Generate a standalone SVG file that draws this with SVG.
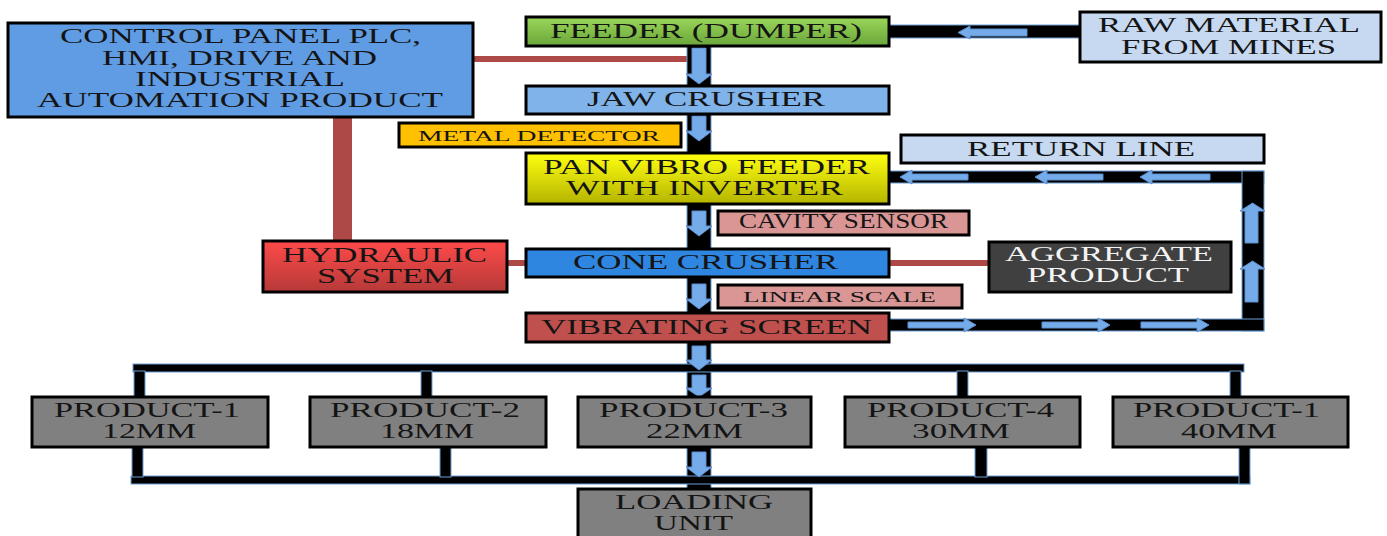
<svg xmlns="http://www.w3.org/2000/svg" width="1387" height="536" viewBox="0 0 1387 536">
<defs>
<style>
.box{stroke:#000;stroke-width:3}
.t{font-family:"Liberation Serif","Times New Roman",serif;font-size:20px;fill:#141414;text-anchor:middle}
.s{font-size:15px}
.w{fill:#f4f4f4}
.belt{fill:#000;stroke:#6c9fd6;stroke-width:1}
.red{fill:#ad4a47}
.arr{fill:#74abe8;stroke:#5c8fd0;stroke-width:1}
</style>
<linearGradient id="gGreen" x1="0" y1="0" x2="0" y2="1"><stop offset="0" stop-color="#9bd65a"/><stop offset="1" stop-color="#6aa63a"/></linearGradient>
<linearGradient id="gYellow" x1="0" y1="0" x2="0" y2="1"><stop offset="0" stop-color="#ffff10"/><stop offset="1" stop-color="#b4b400"/></linearGradient>
<linearGradient id="gRed" x1="0" y1="0" x2="0" y2="1"><stop offset="0" stop-color="#ff4a4a"/><stop offset="1" stop-color="#b53a38"/></linearGradient>
</defs>

<g id="connectors">
  <!-- red control links -->
  <rect class="red" x="473" y="56" width="216" height="6"/>
  <rect class="red" x="333" y="117" width="19" height="124"/>
  <rect class="red" x="506" y="260" width="21" height="6"/>
  <rect class="red" x="888" y="260" width="101" height="6"/>
  <!-- raw material belt -->
  <rect class="belt" x="888" y="25" width="192" height="13"/>
  <!-- main spine -->
  <rect class="belt" x="687" y="46" width="24" height="444"/>
  <!-- return line -->
  <rect class="belt" x="888" y="171" width="376" height="12"/>
  <rect class="belt" x="1242" y="171" width="22" height="160"/>
  <rect class="belt" x="888" y="319" width="376" height="12"/>
  <!-- distribution bar -->
  <rect class="belt" x="133" y="364" width="1111" height="8"/>
  <rect class="belt" x="134" y="371" width="11" height="26"/>
  <rect class="belt" x="421" y="371" width="11" height="26"/>
  <rect class="belt" x="957" y="371" width="11" height="26"/>
  <rect class="belt" x="1230" y="371" width="11" height="26"/>
  <!-- collector bar -->
  <rect class="belt" x="131" y="476" width="1119" height="8"/>
  <rect class="belt" x="132" y="446" width="11" height="31"/>
  <rect class="belt" x="440" y="446" width="11" height="31"/>
  <rect class="belt" x="975" y="446" width="12" height="31"/>
  <rect class="belt" x="1239" y="446" width="11" height="38"/>
  <!-- arrows on spine (down) -->
  <polygon class="arr" points="692,48 706,48 706,74 712,74 699,84 686,74 692,74"/>
  <polygon class="arr" points="692,116 706,116 706,131 712,131 699,141 686,131 692,131"/>
  <polygon class="arr" points="692,211 706,211 706,226 712,226 699,236 686,226 692,226"/>
  <polygon class="arr" points="692,284 706,284 706,299 712,299 699,309 686,299 692,299"/>
  <polygon class="arr" points="692,346 706,346 706,360 712,360 699,370 686,360 692,360"/>
  <polygon class="arr" points="692,375 706,375 706,388 712,388 699,397 686,388 692,388"/>
  <polygon class="arr" points="692,452 706,452 706,467 712,467 699,477 686,467 692,467"/>
  <!-- raw arrow (left) -->
  <polygon class="arr" points="1027,29 970,29 970,26 958,32.5 970,39 970,36 1027,36"/>
  <!-- return top arrows (left) -->
  <polygon class="arr" points="968,174 912,174 912,170 900,177 912,184 912,180 968,180"/>
  <polygon class="arr" points="1103,174 1047,174 1047,170 1035,177 1047,184 1047,180 1103,180"/>
  <polygon class="arr" points="1210,174 1152,174 1152,170 1140,177 1152,184 1152,180 1210,180"/>
  <!-- return right arrows (up) -->
  <polygon class="arr" points="1245,243 1245,211 1240,211 1252.5,203 1265,211 1258,211 1258,243"/>
  <polygon class="arr" points="1245,302 1245,269 1240,269 1252.5,261 1265,269 1258,269 1258,302"/>
  <!-- return bottom arrows (right) -->
  <polygon class="arr" points="908,322 964,322 964,318 976,325 964,332 964,328 908,328"/>
  <polygon class="arr" points="1042,322 1098,322 1098,318 1110,325 1098,332 1098,328 1042,328"/>
  <polygon class="arr" points="1141,322 1197,322 1197,318 1209,325 1197,332 1197,328 1141,328"/>
</g>

<g id="control-panel">
  <rect class="box" x="8" y="23" width="465" height="94" fill="#609ce3"/>
  <text class="t" x="240.5" y="43" textLength="361" lengthAdjust="spacingAndGlyphs">CONTROL PANEL PLC,</text>
  <text class="t" x="239.5" y="65" textLength="275" lengthAdjust="spacingAndGlyphs">HMI, DRIVE AND</text>
  <text class="t" x="240" y="86" textLength="210" lengthAdjust="spacingAndGlyphs">INDUSTRIAL</text>
  <text class="t" x="240" y="107" textLength="406" lengthAdjust="spacingAndGlyphs">AUTOMATION PRODUCT</text>
</g>

<g id="feeder">
  <rect class="box" x="526" y="17" width="363" height="29" fill="url(#gGreen)"/>
  <text class="t" x="706" y="38" font-size="19" textLength="312" lengthAdjust="spacingAndGlyphs">FEEDER (DUMPER)</text>
</g>

<g id="raw-material">
  <rect class="box" x="1080" y="12" width="301" height="50" fill="#c6d9f1"/>
  <text class="t" x="1229" y="32" font-size="19" textLength="262" lengthAdjust="spacingAndGlyphs">RAW MATERIAL</text>
  <text class="t" x="1228.5" y="54" font-size="19" textLength="215" lengthAdjust="spacingAndGlyphs">FROM MINES</text>
</g>

<g id="jaw-crusher">
  <rect class="box" x="526" y="86" width="363" height="28" fill="#7fb3ea"/>
  <text class="t" x="706" y="106" font-size="19" textLength="238" lengthAdjust="spacingAndGlyphs">JAW CRUSHER</text>
</g>

<g id="metal-detector">
  <rect class="box" x="399" y="123" width="282" height="24" fill="#ffc000"/>
  <text class="t s" x="539" y="141" textLength="242" lengthAdjust="spacingAndGlyphs">METAL DETECTOR</text>
</g>

<g id="return-line">
  <rect class="box" x="901" y="135" width="363" height="28" fill="#c6d9f1"/>
  <text class="t" x="1081" y="156" font-size="19" textLength="228" lengthAdjust="spacingAndGlyphs">RETURN LINE</text>
</g>

<g id="pan-vibro-feeder">
  <rect class="box" x="526" y="153" width="363" height="51" fill="url(#gYellow)"/>
  <text class="t" x="706.5" y="174" textLength="327" lengthAdjust="spacingAndGlyphs">PAN VIBRO FEEDER</text>
  <text class="t" x="704.5" y="195" textLength="277" lengthAdjust="spacingAndGlyphs">WITH INVERTER</text>
</g>

<g id="cavity-sensor">
  <rect class="box" x="718" y="211" width="251" height="24" fill="#d99694"/>
  <text class="t" x="843.5" y="228" font-size="16" textLength="209" lengthAdjust="spacingAndGlyphs">CAVITY SENSOR</text>
</g>

<g id="hydraulic-system">
  <rect class="box" x="263" y="241" width="244" height="51" fill="url(#gRed)"/>
  <text class="t" x="384.5" y="262" textLength="205" lengthAdjust="spacingAndGlyphs">HYDRAULIC</text>
  <text class="t" x="385.5" y="283" textLength="137" lengthAdjust="spacingAndGlyphs">SYSTEM</text>
</g>

<g id="cone-crusher">
  <rect class="box" x="526" y="249" width="363" height="28" fill="#2e86e0"/>
  <text class="t" x="705.5" y="269" textLength="265" lengthAdjust="spacingAndGlyphs">CONE CRUSHER</text>
</g>

<g id="aggregate-product">
  <rect class="box" x="989" y="242" width="242" height="50" fill="#404040"/>
  <text class="t w" x="1109" y="261" textLength="208" lengthAdjust="spacingAndGlyphs">AGGREGATE</text>
  <text class="t w" x="1108" y="282" textLength="162" lengthAdjust="spacingAndGlyphs">PRODUCT</text>
</g>

<g id="linear-scale">
  <rect class="box" x="718" y="285" width="244" height="23" fill="#d99694"/>
  <text class="t s" x="839.5" y="302" textLength="193" lengthAdjust="spacingAndGlyphs">LINEAR SCALE</text>
</g>

<g id="vibrating-screen">
  <rect class="box" x="526" y="313" width="363" height="29" fill="#c0504d"/>
  <text class="t" x="706.5" y="334" textLength="331" lengthAdjust="spacingAndGlyphs">VIBRATING SCREEN</text>
</g>

<g id="product-1">
  <rect class="box" x="32" y="397" width="236" height="50" fill="#808080"/>
  <text class="t" x="147" y="417" textLength="186" lengthAdjust="spacingAndGlyphs">PRODUCT-1</text>
  <text class="t" x="149" y="438" textLength="94" lengthAdjust="spacingAndGlyphs">12MM</text>
</g>
<g id="product-2">
  <rect class="box" x="310" y="397" width="236" height="50" fill="#808080"/>
  <text class="t" x="425" y="417" textLength="190" lengthAdjust="spacingAndGlyphs">PRODUCT-2</text>
  <text class="t" x="427" y="438" textLength="94" lengthAdjust="spacingAndGlyphs">18MM</text>
</g>
<g id="product-3">
  <rect class="box" x="578" y="397" width="233" height="50" fill="#808080"/>
  <text class="t" x="693.5" y="417" textLength="189" lengthAdjust="spacingAndGlyphs">PRODUCT-3</text>
  <text class="t" x="694.5" y="438" textLength="97" lengthAdjust="spacingAndGlyphs">22MM</text>
</g>
<g id="product-4">
  <rect class="box" x="845" y="397" width="235" height="50" fill="#808080"/>
  <text class="t" x="960.5" y="417" textLength="187" lengthAdjust="spacingAndGlyphs">PRODUCT-4</text>
  <text class="t" x="961" y="438" textLength="98" lengthAdjust="spacingAndGlyphs">30MM</text>
</g>
<g id="product-5">
  <rect class="box" x="1113" y="397" width="235" height="50" fill="#808080"/>
  <text class="t" x="1226.5" y="417" textLength="187" lengthAdjust="spacingAndGlyphs">PRODUCT-1</text>
  <text class="t" x="1229" y="438" textLength="96" lengthAdjust="spacingAndGlyphs">40MM</text>
</g>

<g id="loading-unit">
  <rect class="box" x="578" y="489" width="233" height="52" fill="#808080"/>
  <text class="t" x="694" y="509" textLength="158" lengthAdjust="spacingAndGlyphs">LOADING</text>
  <text class="t" x="693.5" y="530" textLength="79" lengthAdjust="spacingAndGlyphs">UNIT</text>
</g>
</svg>
